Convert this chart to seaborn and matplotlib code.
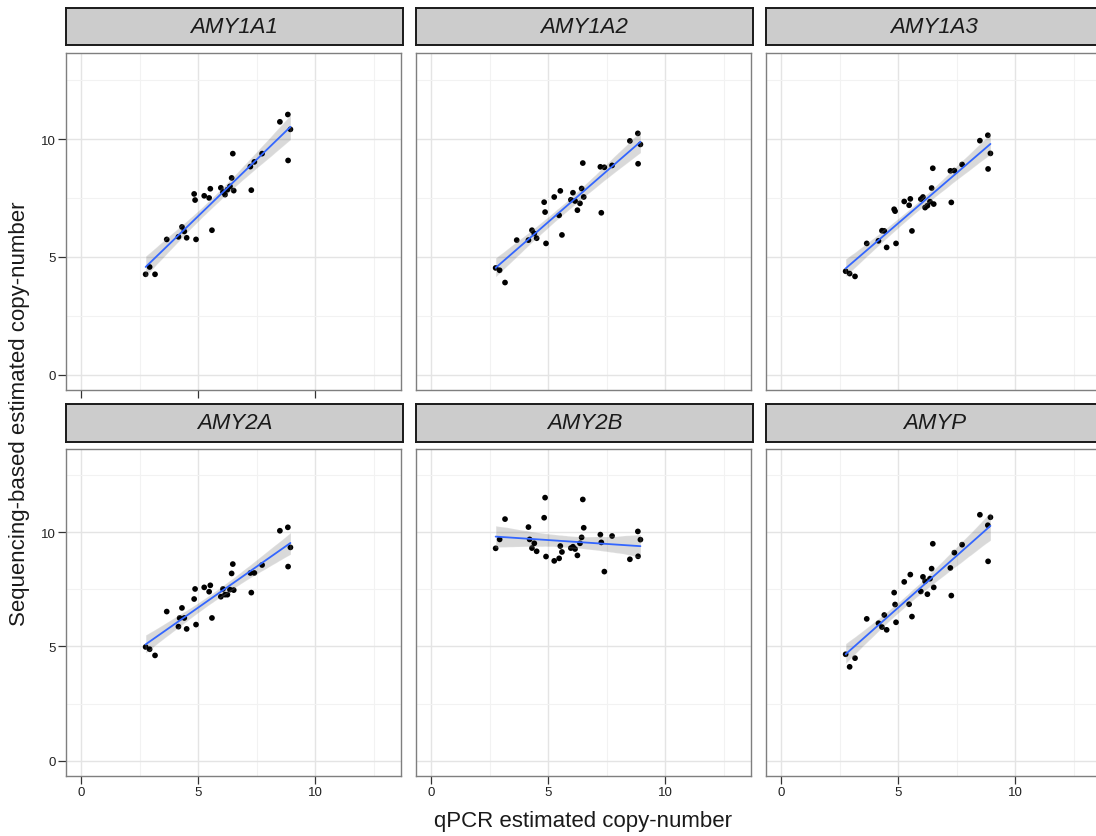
import numpy as np
import pandas as pd
import matplotlib
matplotlib.use("Agg")
import matplotlib.pyplot as plt
import seaborn as sns

nan = np.nan

# Data
genes = ["AMY1A1", "AMY1A2", "AMY1A3", "AMY2A", "AMY2B", "AMYP"]

qpcr = [2.75, 2.92, 3.15, 3.65, 4.15, 4.20, 4.30, 4.40, 4.50, 4.82, 4.86,
        4.90, 5.25, 5.46, 5.51, 5.58, 5.96, 6.05, 6.14, 6.24, 6.35, 6.42,
        6.47, 6.51, 7.22, 7.26, 7.39, 7.72, 8.48, 8.82, 8.83, 8.93]

amy1a1 = [4.26, 4.57, 4.26, 5.74, 5.85, nan, 6.27, 6.08, 5.81, 7.67, 7.41,
          5.74, 7.59, 7.50, 7.89, 6.13, 7.93, 7.75, 7.64, 7.85, 7.99, 8.35,
          9.38, 7.81, 8.83, 7.83, 9.03, 9.38, 10.73, 11.04, 9.09, 10.41]
amy1a2 = [4.53, 4.43, 3.91, 5.71, 5.71, nan, 6.13, 5.99, 5.79, 7.32, 6.90,
          5.57, 7.54, 6.76, 7.80, 5.93, 7.42, 7.72, 7.37, 6.98, 7.27, 7.90,
          8.98, 7.54, 8.82, 6.87, 8.80, 8.88, 9.92, 10.24, 8.95, 9.77]
amy1a3 = [4.39, 4.29, 4.17, 5.57, 5.68, nan, 6.11, 6.10, 5.40, 7.02, 6.94,
          5.57, 7.35, 7.19, 7.46, 6.10, 7.45, 7.54, 7.09, 7.17, 7.34, 7.92,
          8.76, 7.24, 8.65, 7.31, 8.66, 8.92, 9.93, 10.16, 8.73, 9.39]
amy2a = [4.98, 4.88, 4.61, 6.53, 5.87, 6.25, 6.69, 6.25, 5.77, 7.08, 7.52,
         5.96, 7.59, 7.40, 7.68, 6.25, 7.18, 7.52, 7.27, 7.27, 7.49, 8.20,
         8.61, 7.47, 8.22, 7.36, 8.22, 8.57, 10.07, 10.22, 8.50, 9.34]
amy2b = [9.30, 9.69, 10.58, nan, 10.23, 9.69, 9.31, 9.52, 9.17, 10.64, 11.52,
         8.94, 8.75, 8.86, 9.40, 9.14, 9.31, 9.37, 9.27, 8.99, 9.52, 9.78,
         11.44, 10.20, 9.90, 9.56, 8.28, 9.84, 8.82, 10.04, 8.95, 9.68]
amyp = [4.66, 4.11, 4.49, 6.21, 6.02, nan, 5.85, 6.38, 5.73, 7.36, 6.84,
        6.06, 7.83, 6.85, 8.15, 6.31, 7.41, 8.05, 7.86, 7.29, 7.97, 8.41,
        9.50, 7.59, 8.44, 7.23, 9.11, 9.46, 10.77, 10.31, 8.73, 10.66]

seq_values = dict(zip(genes, [amy1a1, amy1a2, amy1a3, amy2a, amy2b, amyp]))

frames = []
for gene in genes:
    frames.append(pd.DataFrame({"qpcr": qpcr, "seq": seq_values[gene], "gene": gene}))
data = pd.concat(frames, ignore_index=True)

sns.set_theme(style="white")
plt.rcParams["font.family"] = ["Liberation Sans", "DejaVu Sans"]

W, H = 1096, 837
fig = plt.figure(figsize=(W / 100, H / 100), dpi=100)


def px_box(x0, y0, x1, y1):
    # pixel box (top-left origin) -> figure fraction rect
    return [x0 / W, 1 - y1 / H, (x1 - x0) / W, (y1 - y0) / H]


cols = [(66, 401), (416, 751), (766, 1101)]
rows = [((9, 46), (54, 391)), ((405, 442.5), (450, 776.5))]

for i, gene in enumerate(genes):
    r, c = divmod(i, 3)
    (sy0, sy1), (py0, py1) = rows[r]
    x0, x1 = cols[c]

    ax = fig.add_axes(px_box(x0, py0, x1, py1))
    sub = data[data["gene"] == gene]
    sns.regplot(data=sub, x="qpcr", y="seq", ax=ax, color="black", ci=95, seed=3,
                scatter_kws={"s": 17, "linewidths": 0, "edgecolor": "none", "alpha": 1},
                line_kws={"lw": 1.3})
    ax.lines[-1].set_color("#3366FF")

    ax.set_xlim(-0.65, 13.65)
    ax.set_ylim(-0.65, 13.65)
    ax.set_xticks([0, 5, 10])
    ax.set_yticks([0, 5, 10])
    ax.set_xticks([2.5, 7.5, 12.5], minor=True)
    ax.set_yticks([2.5, 7.5, 12.5], minor=True)
    ax.grid(which="major", color="#e4e4e4", lw=1.0)
    ax.grid(which="minor", color="#f2f2f2", lw=0.8)
    ax.set_axisbelow(True)
    ax.set_xlabel("")
    ax.set_ylabel("")
    for sp in ax.spines.values():
        sp.set_color("#7f7f7f")
        sp.set_linewidth(1.0)

    ax.tick_params(which="minor", length=0)
    ax.tick_params(which="major", length=5.5, width=0.9, color="#333333",
                   labelsize=9.5, labelcolor="#222222", pad=2)
    ax.tick_params(axis="y", left=(c == 0), labelleft=(c == 0))
    ax.tick_params(axis="x", bottom=(r == 1 or c == 0), labelbottom=(r == 1))

    # facet strip
    sax = fig.add_axes(px_box(x0, sy0, x1 + 2, sy1))
    sax.set_facecolor("#CCCCCC")
    sax.set_xticks([])
    sax.set_yticks([])
    for sp in sax.spines.values():
        sp.set_color("#1a1a1a")
        sp.set_linewidth(1.4)
    sax.text(0.5, 0.5, gene, transform=sax.transAxes, ha="center", va="center",
             fontsize=16, style="italic", color="#1a1a1a")

fig.text(583 / W, 1 - 822 / H, "qPCR estimated copy-number",
         ha="center", va="center", fontsize=16, color="#1a1a1a")
fig.text(20 / W, 1 - 414 / H, "Sequencing-based estimated copy-number",
         ha="center", va="center", rotation=90, fontsize=16, color="#1a1a1a")

fig.savefig("out.png", dpi=100)
